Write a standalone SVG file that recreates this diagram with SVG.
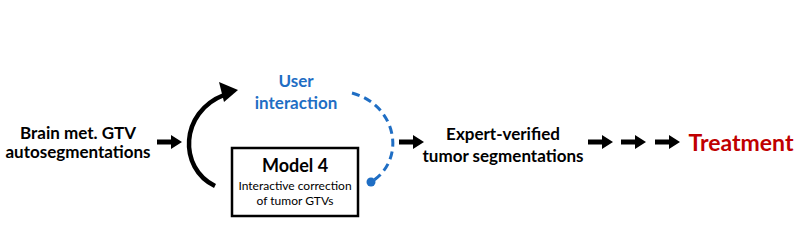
<svg xmlns="http://www.w3.org/2000/svg" width="800" height="236" viewBox="0 0 800 236">
<defs>
<style>
.t{font-family:Lato,"Open Sans","Liberation Sans",sans-serif;font-weight:bold;text-anchor:middle;fill:#000}
.big{font-size:17px}
.blue{fill:#1f6ec4}
.small{font-size:12px;font-weight:normal}
</style>
<path id="arr" d="M0,-2.5 L14,-2.5 L14,-7 L25,0 L14,7 L14,2.5 L0,2.5 z"/>
</defs>
<g id="input">
<text class="t big" x="78" y="139">Brain met. GTV</text>
<text class="t big" x="78" y="158">autosegmentations</text>
</g>
<g id="user">
<text class="t big blue" x="296" y="87">User</text>
<text class="t big blue" x="296" y="109">interaction</text>
</g>
<g id="model4">
<rect x="232" y="148" width="126" height="68" fill="#fff" stroke="#000" stroke-width="2.5"/>
<text class="t" x="295" y="172" font-size="18">Model 4</text>
<text class="t small" x="295" y="190">Interactive correction</text>
<text class="t small" x="295" y="205">of tumor GTVs</text>
</g>
<g id="expert">
<text class="t big" x="503" y="140">Expert-verified</text>
<text class="t big" x="503" y="162">tumor segmentations</text>
</g>
<g id="treatment">
<text class="t" x="741" y="151" font-size="23" style="fill:#c00000">Treatment</text>
</g>
<g id="connectors">
<use href="#arr" x="157" y="142"/>
<use href="#arr" x="399" y="142"/>
<use href="#arr" x="588" y="142"/>
<use href="#arr" x="621" y="142"/>
<use href="#arr" x="655" y="142"/>
<path d="M215,186 C178,168 180,112 224,95" fill="none" stroke="#000" stroke-width="4.5"/>
<path d="M219,82 L238,90 L224,102 z" fill="#000"/>
<path d="M352,93 C397,105 407,160 371,182" fill="none" stroke="#1f6ec4" stroke-width="3" stroke-dasharray="8,5"/>
<circle cx="371" cy="182" r="4.5" fill="#1f6ec4"/>
</g>
</svg>
